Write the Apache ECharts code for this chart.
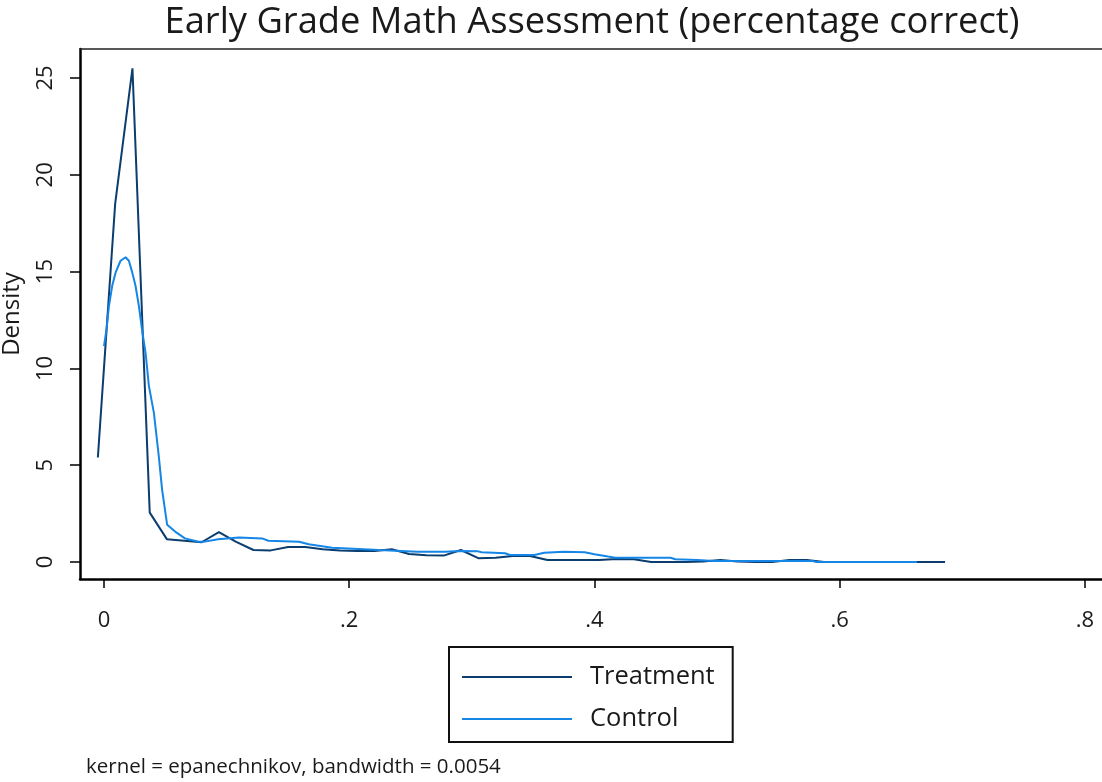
<!DOCTYPE html>
<html>
<head>
<meta charset="utf-8">
<script src="https://cdn.jsdelivr.net/npm/echarts@6/dist/echarts.min.js"></script>
<style>
html,body{margin:0;padding:0;background:#fff;}
#chart{width:1102px;height:782px;}
</style>
</head>
<body>
<div id="chart"></div>
<script>
// ---- data ----
var titleText = 'Early Grade Math Assessment (percentage correct)';
var noteText = 'kernel = epanechnikov, bandwidth = 0.0054';
var seriesNames = ['Treatment', 'Control'];

var treatmentX = [-0.005, 0.0091, 0.0232, 0.0373, 0.0514, 0.0655, 0.0796, 0.0937, 0.1078, 0.1219,
  0.136, 0.1501, 0.1642, 0.1783, 0.1924, 0.2065, 0.2206, 0.2347, 0.2488, 0.2629,
  0.277, 0.2911, 0.3052, 0.3193, 0.3334, 0.3475, 0.3616, 0.3757, 0.3898, 0.4039,
  0.418, 0.4321, 0.4462, 0.4603, 0.4744, 0.4885, 0.5026, 0.5167, 0.5308, 0.5449,
  0.559, 0.5731, 0.5872, 0.6013, 0.6154, 0.6295, 0.6436, 0.6577, 0.6718, 0.6859];
var treatmentY = [5.4, 18.5, 25.5, 2.55, 1.17, 1.1, 1.02, 1.54, 1.04, 0.62,
  0.6, 0.78, 0.78, 0.66, 0.6, 0.57, 0.57, 0.66, 0.41, 0.35,
  0.33, 0.62, 0.2, 0.22, 0.31, 0.31, 0.1, 0.1, 0.1, 0.1,
  0.16, 0.14, 0.0, 0.0, 0.0, 0.02, 0.1, 0.02, 0.0, 0.0,
  0.1, 0.1, 0.0, 0.0, 0.0, 0.0, 0.0, 0.0, 0.0, 0.0];

var controlX = [0.0, 0.002, 0.004, 0.0068, 0.0095, 0.0135, 0.0176, 0.0203, 0.023, 0.0257,
  0.0285, 0.031, 0.0339, 0.0366, 0.0407, 0.0447, 0.0474, 0.0515, 0.058, 0.066,
  0.077, 0.081, 0.093, 0.11, 0.129, 0.134, 0.159, 0.167, 0.186, 0.224,
  0.242, 0.256, 0.278, 0.291, 0.305, 0.308, 0.327, 0.331, 0.351, 0.352,
  0.359, 0.375, 0.392, 0.40, 0.411, 0.417, 0.462, 0.466, 0.484, 0.497,
  0.578, 0.581, 0.663];
var controlY = [11.15, 12.0, 13.2, 14.3, 14.96, 15.56, 15.74, 15.56, 14.96, 14.27,
  13.2, 12.0, 10.8, 9.1, 7.7, 5.45, 3.73, 1.92, 1.57, 1.22,
  1.05, 1.04, 1.17, 1.26, 1.22, 1.1, 1.05, 0.92, 0.74, 0.62,
  0.57, 0.53, 0.53, 0.57, 0.55, 0.5, 0.45, 0.36, 0.36, 0.45,
  0.48, 0.53, 0.5, 0.4, 0.28, 0.22, 0.22, 0.14, 0.10, 0.05,
  0.05, 0.0, 0.0];

var xTicks = [0, 0.2, 0.4, 0.6, 0.8];
var yTicks = [0, 5, 10, 15, 20, 25];

// ---- build ----
function pairs(xs, ys) { return xs.map(function (x, i) { return [x, ys[i]]; }); }
var FONT = '"Open Sans", "Noto Sans", sans-serif';
var TXT = '#1a1a1a';
var navy = '#0b3d6e';
var blue = '#1585e6';

var chart = echarts.init(document.getElementById('chart'), null, {renderer: 'canvas'});
var xMin = -0.01957, xMax = 0.81386;
var yMin = -0.878, yMax = 26.498;

chart.setOption({
  backgroundColor: '#ffffff',
  animation: false,
  textStyle: {fontFamily: FONT},
  grid: {left: 80, right: 0, top: 49, bottom: 203, containLabel: false, outerBoundsMode: 'none'},
  graphic: [
    {type: 'text', silent: true,
      style: {text: titleText, x: 592, y: 23, textAlign: 'center', textVerticalAlign: 'middle',
        font: '36.3px ' + FONT, fill: TXT}},
    {type: 'text', silent: true,
      style: {text: noteText, x: 86, y: 767, textAlign: 'left', textVerticalAlign: 'middle',
        font: '20.5px ' + FONT, fill: TXT}}
  ],
  legend: {
    orient: 'vertical', left: 449, top: 647,
    padding: [15, 18, 8, 13],
    borderColor: '#111', borderWidth: 2,
    itemWidth: 110, itemHeight: 2, itemGap: 12,
    icon: 'rect',
    data: seriesNames,
    textStyle: {fontSize: 25.5, color: TXT, fontFamily: FONT, lineHeight: 30, padding: [0, 0, 0, 13]}
  },
  xAxis: [{
    type: 'value', min: xMin, max: xMax, position: 'bottom',
    axisLine: {show: true, onZero: false, lineStyle: {color: '#000', width: 2.5}},
    axisTick: {show: true, customValues: xTicks, length: 9, lineStyle: {color: '#000', width: 1.5}},
    axisLabel: {show: true, customValues: xTicks, margin: 31, fontSize: 22, color: TXT, fontFamily: FONT,
      formatter: function (v) { return v === 0 ? '0' : String(+v.toFixed(2)).replace(/^0/, ''); }},
    splitLine: {show: false}
  }, {
    type: 'value', min: xMin, max: xMax, position: 'top',
    axisLine: {show: true, onZero: false, lineStyle: {color: '#222', width: 1.5}},
    axisTick: {show: false}, axisLabel: {show: false}, splitLine: {show: false}
  }],
  yAxis: {
    type: 'value', min: yMin, max: yMax,
    name: 'Density', nameLocation: 'middle', nameGap: 56, nameRotate: 90, nameMoveOverlap: false,
    nameTextStyle: {fontSize: 24, color: TXT, fontFamily: FONT},
    axisLine: {show: true, onZero: false, lineStyle: {color: '#000', width: 2.5}},
    axisTick: {show: true, customValues: yTicks, length: 10, lineStyle: {color: '#000', width: 1.5}},
    axisLabel: {show: true, customValues: yTicks, rotate: 90, margin: 23, fontSize: 22, color: TXT, fontFamily: FONT},
    splitLine: {show: false}
  },
  series: [{
    name: seriesNames[0], type: 'line', xAxisIndex: 0, data: pairs(treatmentX, treatmentY),
    showSymbol: false, symbol: 'none', lineStyle: {color: navy, width: 2}, itemStyle: {color: navy}
  }, {
    name: seriesNames[1], type: 'line', xAxisIndex: 0, data: pairs(controlX, controlY),
    showSymbol: false, symbol: 'none', lineStyle: {color: blue, width: 2}, itemStyle: {color: blue}
  }]
});
</script>
</body>
</html>
